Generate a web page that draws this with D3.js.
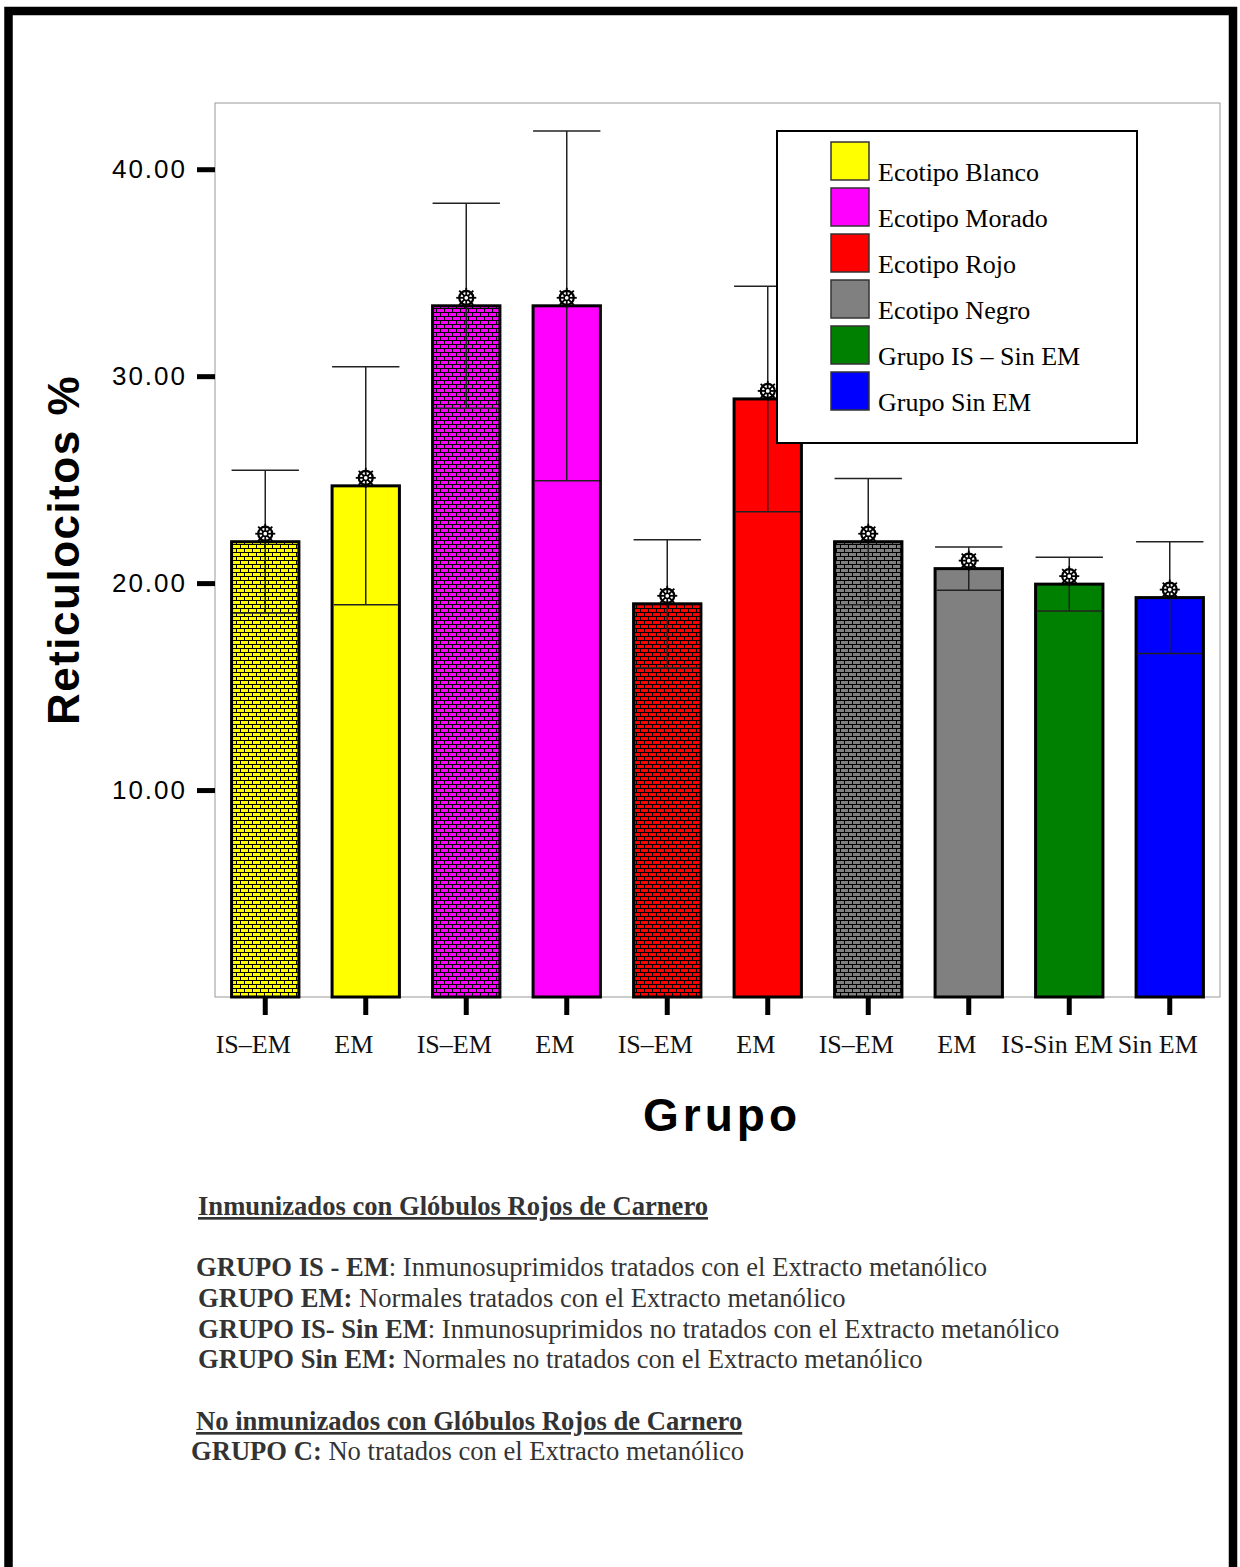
<!DOCTYPE html>
<html><head><meta charset="utf-8">
<script src="https://cdn.jsdelivr.net/npm/d3@7"></script>
<style>
html,body{margin:0;padding:0;background:#fff;}
svg{display:block;}
</style></head>
<body>
<script>
// ---- data ----
const xLabels = ["IS–EM","EM","IS–EM","EM","IS–EM","EM","IS–EM","EM","IS-Sin EM","Sin EM"];
const means   = [22.0, 24.7, 33.4, 33.4, 19.0, 28.9, 22.0, 20.7, 19.95, 19.3];
const errs    = [3.45, 5.75, 4.95, 8.45, 3.1, 5.45, 3.05, 1.05, 1.3, 2.7];
const barColors = ["#ffff00","#ffff00","#ff00ff","#ff00ff","#ff0000","#ff0000","#808080","#808080","#008000","#0000ff"];
const patterned = [true,false,true,false,true,false,true,false,false,false];
const yTicks = [10, 20, 30, 40];
const legendLabels = ["Ecotipo Blanco","Ecotipo Morado","Ecotipo Rojo","Ecotipo Negro","Grupo IS – Sin EM","Grupo Sin EM"];
const legendColors = ["#ffff00","#ff00ff","#ff0000","#808080","#008000","#0000ff"];
const notes = [
  {bold:"Inmunizados con Glóbulos Rojos de Carnero", rest:"", head:true},
  {bold:"GRUPO IS - EM", rest:": Inmunosuprimidos tratados con el Extracto metanólico"},
  {bold:"GRUPO EM:", rest:" Normales tratados con el Extracto metanólico"},
  {bold:"GRUPO IS- Sin EM", rest:": Inmunosuprimidos no tratados con el Extracto metanólico"},
  {bold:"GRUPO Sin EM:", rest:" Normales no tratados con el Extracto metanólico"},
  {bold:"No inmunizados con Glóbulos Rojos de Carnero", rest:"", head:true},
  {bold:"GRUPO C:", rest:" No tratados con el Extracto metanólico"}
];

const W = 1240, H = 1567;
const svg = d3.select("body").append("svg").attr("width", W).attr("height", H);

// outer frame
svg.append("rect").attr("x",8.5).attr("y",11).attr("width",1224.5).attr("height",1620)
  .attr("fill","none").attr("stroke","#000").attr("stroke-width",8.5);

const P = {l:215, r:1220, t:103, b:997};
const y = d3.scaleLinear().domain([0, 43.2]).range([P.b, P.t]);
const x = d3.scaleBand().domain(d3.range(xLabels.length)).range([P.l, P.r])
  .paddingInner(0.33).paddingOuter(0.165);

// patterns
const defs = svg.append("defs");
barColors.forEach((c,i)=>{
  if(!patterned[i]) return;
  const p = defs.append("pattern").attr("id","brick"+i).attr("patternUnits","userSpaceOnUse")
    .attr("width",8).attr("height",8);
  p.append("rect").attr("width",8).attr("height",8).attr("fill",c);
  p.append("path").attr("d","M0,0.5H8M0,4.5H8M0.5,0V4.5M4.5,4.5V8")
    .attr("stroke","#000").attr("stroke-width",1).attr("fill","none")
    .attr("shape-rendering","crispEdges");
});

// plot frame
svg.append("rect").attr("x",P.l).attr("y",P.t).attr("width",P.r-P.l).attr("height",P.b-P.t)
  .attr("fill","none").attr("stroke","#999").attr("stroke-width",1);

// y axis
const ya = svg.append("g").attr("transform",`translate(${P.l},0)`)
  .call(d3.axisLeft(y).tickValues(yTicks).tickSize(18).tickPadding(10).tickFormat(d3.format(".2f")));
ya.select(".domain").remove();
ya.selectAll(".tick line").attr("stroke","#000").attr("stroke-width",5);
ya.selectAll(".tick text").attr("font-family","Liberation Sans, Arial, sans-serif")
  .attr("font-size",26).attr("letter-spacing","2px").attr("fill","#000");

// x axis
const xa = svg.append("g").attr("transform",`translate(0,${P.b})`)
  .call(d3.axisBottom(x).tickSize(18).tickPadding(20).tickFormat(i=>xLabels[i]));
xa.select(".domain").remove();
xa.selectAll(".tick line").attr("stroke","#000").attr("stroke-width",5);
xa.selectAll(".tick text").attr("font-family","Liberation Serif, Times New Roman, serif")
  .attr("font-size",26).attr("fill","#111").attr("dx",-12);

// bars
svg.append("g").selectAll("rect").data(means).join("rect")
  .attr("x",(d,i)=>x(i)).attr("width",x.bandwidth())
  .attr("y",d=>y(d)).attr("height",d=>P.b-y(d))
  .attr("fill",(d,i)=>patterned[i]?`url(#brick${i})`:barColors[i])
  .attr("stroke","#000").attr("stroke-width",3);

// error bars
const eg = svg.append("g").attr("stroke","#222").attr("stroke-width",1.5).attr("fill","none");
means.forEach((m,i)=>{
  const cx = x(i)+x.bandwidth()/2, x0 = x(i), x1 = x(i)+x.bandwidth();
  eg.append("line").attr("x1",cx).attr("x2",cx).attr("y1",y(m+errs[i])).attr("y2",y(m-errs[i]));
  eg.append("line").attr("x1",x0).attr("x2",x1).attr("y1",y(m+errs[i])).attr("y2",y(m+errs[i]));
  eg.append("line").attr("x1",x0+1.5).attr("x2",x1-1.5).attr("y1",y(m-errs[i])).attr("y2",y(m-errs[i]));
});

// markers
const mg = svg.append("g");
means.forEach((m,i)=>{
  const cx = x(i)+x.bandwidth()/2, cy = y(m)-8;
  const g = mg.append("g").attr("transform",`translate(${cx},${cy})`);
  g.append("circle").attr("r",7).attr("fill","#fff").attr("stroke","#000").attr("stroke-width",2.2);
  [0,45,90,135].forEach(a=>{
    g.append("line").attr("x1",-10).attr("x2",10).attr("y1",0).attr("y2",0)
      .attr("transform",`rotate(${a})`).attr("stroke","#000").attr("stroke-width",1.8);
  });
  g.append("circle").attr("r",2.6).attr("fill","#fff").attr("stroke","#000").attr("stroke-width",1.5);
});

// legend
const lg = svg.append("g").attr("transform","translate(777,131)");
lg.append("rect").attr("width",360).attr("height",312).attr("fill","#fff")
  .attr("stroke","#000").attr("stroke-width",2);
legendLabels.forEach((t,i)=>{
  lg.append("rect").attr("x",54).attr("y",11+i*46).attr("width",38).attr("height",38)
    .attr("fill",legendColors[i]).attr("stroke","#333").attr("stroke-width",1.5);
  lg.append("text").attr("x",101).attr("y",50+i*46).text(t)
    .attr("font-family","Liberation Serif, Times New Roman, serif").attr("font-size",26).attr("fill","#000");
});

// axis titles
svg.append("text").attr("x",722).attr("y",1131).attr("text-anchor","middle").text("Grupo")
  .attr("font-family","Liberation Sans, Arial, sans-serif").attr("font-weight","bold")
  .attr("font-size",46).attr("letter-spacing","4px");
svg.append("text").attr("transform","translate(79,550) rotate(-90)").attr("text-anchor","middle")
  .text("Reticulocitos %")
  .attr("font-family","Liberation Sans, Arial, sans-serif").attr("font-weight","bold")
  .attr("font-size",44).attr("letter-spacing","1.5px");

// notes
const noteX = [198,196,198,198,198,196,191];
const noteY = [1215,1276,1307,1338,1368,1430,1460];
notes.forEach((n,i)=>{
  const t = svg.append("text").attr("x",noteX[i]).attr("y",noteY[i])
    .attr("font-family","Liberation Serif, Times New Roman, serif").attr("font-size",26.6).attr("fill","#333");
  t.append("tspan").attr("font-weight","bold").attr("text-decoration",n.head?"underline":null).text(n.bold);
  if(n.rest) t.append("tspan").text(n.rest);
});
</script>
</body></html>
